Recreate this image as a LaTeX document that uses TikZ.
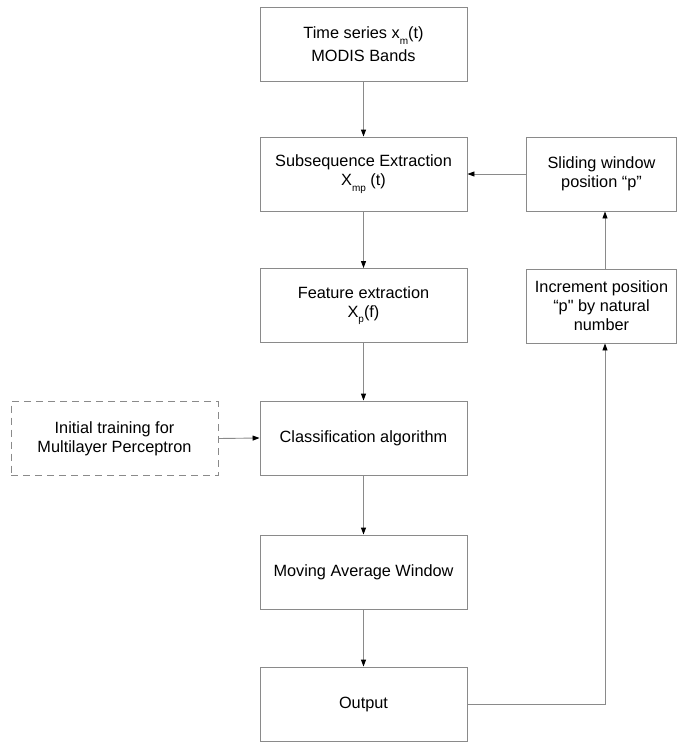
\documentclass[tikz,border=0pt]{standalone}
\usepackage{fontspec}
\setmainfont{Liberation Sans}
\newfontfamily\rawq{Liberation Sans}[Ligatures=TeXOff]
\usetikzlibrary{arrows.meta}
\definecolor{edge}{HTML}{8A8A8A}
\newcommand{\lowsub}[1]{\raisebox{-0.35em}{\fontsize{10}{10}\selectfont #1}}
\tikzset{
  stepbox/.style={draw=edge, line width=0.9pt, rectangle, inner sep=0pt,
    minimum width=207pt, minimum height=74pt, align=center,
    font=\fontsize{16.3}{19}\selectfont, text=black},
  sidebox/.style={stepbox, minimum width=150pt},
  dashbox/.style={stepbox, dash pattern=on 7pt off 5pt},
  conn/.style={draw=edge, line width=0.9pt, -{Triangle[length=7pt,width=5pt,color=black]}}
}
\begin{document}
\begin{tikzpicture}[x=1pt,y=-1pt]
\useasboundingbox (0,0) rectangle (677,742);
\node[stepbox] (b1) at (363.5,44.5) {Time series x\lowsub{m}(t)\\[4pt]MODIS Bands};
\node[stepbox] (b2) at (363.5,174) {Subsequence Extraction\\X\lowsub{mp} (t)};
\node[stepbox] (b3) at (363.5,305.5) {Feature extraction\\X\lowsub{p}(f)};
\node[stepbox] (b4) at (363.5,438) {Classification algorithm};
\node[stepbox] (b5) at (363.5,572) {Moving Average Window};
\node[stepbox] (b6) at (363.5,704) {Output};
\node[sidebox] (s1) at (601.5,174) {Sliding window\\position “p”};
\node[sidebox] (inc) at (601.5,306) {Increment position\\“p{\rawq"} by natural\\number};
\node[dashbox] (init) at (114.5,438.5) {Initial training for\\Multilayer Perceptron};
\coordinate (col) at (605,0);
\coordinate (turn) at (605,704);
\draw[conn] (b1) -- (b2);
\draw[conn] (b2) -- (b3);
\draw[conn] (b3) -- (b4);
\draw[conn] (b4) -- (b5);
\draw[conn] (b5) -- (b6);
\draw[conn] (s1.west) -- (b2.east);
\draw[conn] (init.east) -- (b4.west);
\draw[conn] (inc.north -| col) -- (s1.south -| col);
\draw[conn] (b6.east) -- (turn) -- (inc.south -| col);
\end{tikzpicture}
\end{document}
